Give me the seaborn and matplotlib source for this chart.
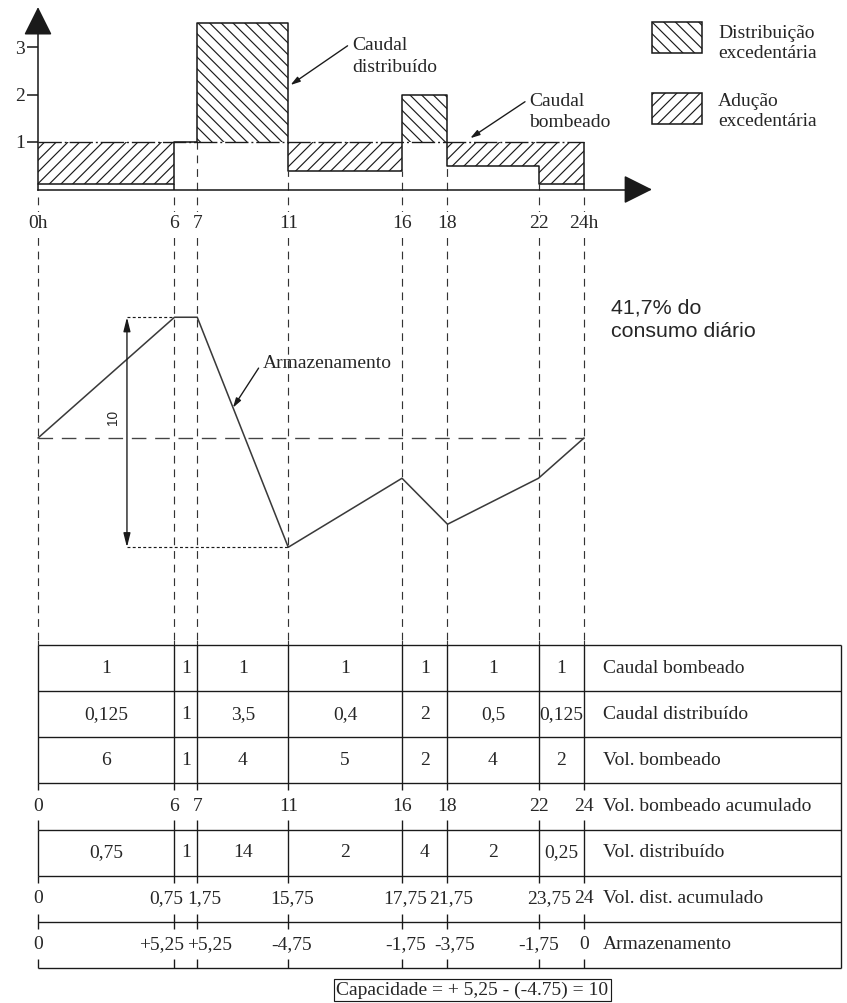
import numpy as np
import pandas as pd
import matplotlib.pyplot as plt
import seaborn as sns
from matplotlib.patches import Rectangle

# ============================================================
# Reservoir sizing diagram: pumped vs distributed flow over the
# day, resulting storage curve and the calculation table.
# ============================================================

# -----------------------------
# Data
# -----------------------------
hours = [0, 6, 7, 11, 16, 18, 22, 24]
hour_labels = ["0h", "6", "7", "11", "16", "18", "22", "24h"]

caudal_bombeado = [1, 1, 1, 1, 1, 1, 1]
caudal_distribuido = [0.125, 1, 3.5, 0.4, 2, 0.5, 0.125]
vol_bombeado = [6, 1, 4, 5, 2, 4, 2]
vol_bombeado_acum = [0, 6, 7, 11, 16, 18, 22, 24]
vol_distribuido = [0.75, 1, 14, 2, 4, 2, 0.25]
vol_dist_acum = [0, 0.75, 1.75, 15.75, 17.75, 21.75, 23.75, 24]
armazenamento = [0, 5.25, 5.25, -4.75, -1.75, -3.75, -1.75, 0]

row_names = ["Caudal bombeado", "Caudal distribuído", "Vol. bombeado",
             "Vol. bombeado acumulado", "Vol. distribuído",
             "Vol. dist. acumulado", "Armazenamento"]


def fmt(v):
    return f"{v:g}".replace(".", ",")


def fmt_signed(v):
    return ("+" if v > 0 else "") + fmt(v)


# -----------------------------
# Figure / layout (pixel based)
# -----------------------------
sns.set_theme(style="white")
plt.rcParams["font.family"] = ["Liberation Serif", "DejaVu Serif"]
plt.rcParams["lines.scale_dashes"] = False
plt.rcParams["hatch.linewidth"] = 0.6

PX_W, PX_H, DPI = 847, 1003, 140
X0, SX = 38, 22.75                       # px of hour 0, px per hour
XLIM = (-X0 / SX, (PX_W - X0) / SX)
FS = 10
INK = "#1a1a1a"
HATCH_DIST = "\\\\\\\\"                  # distribuição excedentária
HATCH_ADUC = "////"                      # adução excedentária
GUIDE = dict(color="#333333", lw=0.6, linestyles=(0, (4, 3)), zorder=0.2)

fig = plt.figure(figsize=(PX_W / DPI, PX_H / DPI), dpi=DPI)


def add_axes(top_px, bottom_px):
    ax = fig.add_axes([0, 1 - bottom_px / PX_H, 1, (bottom_px - top_px) / PX_H])
    ax.set_xlim(XLIM)
    ax.patch.set_alpha(0)
    return ax


# -----------------------------
# 1. Flow chart (top)
# -----------------------------
ax_top = add_axes(0, 232)
ax_top.set_ylim(-(232 - 189.5) / 47.5, 189.5 / 47.5)

# hatched surplus areas
for x0, x1, q, d in zip(hours[:-1], hours[1:], caudal_bombeado, caudal_distribuido):
    if d > q:
        ax_top.fill_between([x0, x1], q, d, facecolor="none", edgecolor=INK,
                            hatch=HATCH_DIST, linewidth=0)
    elif d < q:
        ax_top.fill_between([x0, x1], d, q, facecolor="none", edgecolor=INK,
                            hatch=HATCH_ADUC, linewidth=0)

# distributed flow (solid step) and pumped flow (dash-dot)
sns.lineplot(x=hours, y=caudal_distribuido + caudal_distribuido[-1:], ax=ax_top,
             drawstyle="steps-post", color=INK, linewidth=0.8, estimator=None)
ax_top.hlines(caudal_bombeado[0], hours[0], hours[-1], color=INK, lw=0.7,
              linestyles=(0, (12, 1.5, 1, 1.5)))

# drops from the flow levels to the time axis
levels = caudal_distribuido
for i, h in enumerate(hours[1:], start=1):
    low = min(levels[i - 1], levels[i] if i < len(levels) else levels[i - 1])
    if h in (6, 24):
        ax_top.vlines(h, 0, max(low, 1 if h == 24 else low), color=INK, lw=0.8)
    else:
        ax_top.vlines(h, 0, low, **GUIDE)
ax_top.vlines(hours, ax_top.get_ylim()[0], -0.15, **GUIDE)

# axes with arrows
for side in ["top", "right"]:
    ax_top.spines[side].set_visible(False)
ax_top.spines["left"].set_position(("data", 0))
ax_top.spines["bottom"].set_position(("data", 0))
ax_top.spines["left"].set_bounds(0, 3.5)
ax_top.spines["bottom"].set_bounds(0, 26.2)
for side in ["left", "bottom"]:
    ax_top.spines[side].set_color(INK)
    ax_top.spines[side].set_linewidth(0.8)
head = dict(arrowstyle="-|>,head_length=0.4,head_width=0.2", mutation_scale=32,
            color=INK, lw=0.8, shrinkA=0, shrinkB=0)
ax_top.annotate("", xy=(0, 3.84), xytext=(0, 3.3), arrowprops=head)
ax_top.annotate("", xy=(26.99, 0), xytext=(25.9, 0), arrowprops=head)

ax_top.set_yticks([1, 2, 3])
ax_top.set_yticklabels(["1", "2", "3"])
ax_top.tick_params(axis="y", direction="out", length=5.7, width=0.8, pad=1,
                   labelsize=FS, left=True, color=INK)
ax_top.set_xticks(hours)
ax_top.set_xticklabels(hour_labels)
ax_top.tick_params(axis="x", length=0, pad=13, labelsize=FS)
for lab in ax_top.get_xticklabels():
    lab.set_bbox(dict(facecolor="white", edgecolor="none", pad=1.5))
ax_top.grid(False)

# labels with leader arrows
leader = dict(arrowstyle="-|>,head_length=0.5,head_width=0.15", mutation_scale=8,
              color=INK, lw=0.7, shrinkA=0, shrinkB=0)
ax_top.annotate("Caudal\ndistribuído", xy=(11.1, 2.2), xytext=(13.8, 2.8),
                ha="left", va="center", fontsize=FS, linespacing=1.4,
                arrowprops=dict(leader, relpos=(0, 0.85)))
ax_top.annotate("Caudal\nbombeado", xy=(19.0, 1.08), xytext=(21.6, 1.63),
                ha="left", va="center", fontsize=FS, linespacing=1.3,
                arrowprops=dict(leader, relpos=(0, 0.85)))

# legend
ax_top.add_patch(Rectangle((27.0, 2.87), 2.19, 0.66, fill=False, hatch=HATCH_DIST,
                           edgecolor=INK, lw=0.8))
ax_top.add_patch(Rectangle((27.0, 1.38), 2.19, 0.66, fill=False, hatch=HATCH_ADUC,
                           edgecolor=INK, lw=0.8))
ax_top.text(29.9, 3.08, "Distribuição\nexcedentária", ha="left", va="center",
            fontsize=FS, linespacing=1.2)
ax_top.text(29.9, 1.64, "Adução\nexcedentária", ha="left", va="center",
            fontsize=FS, linespacing=1.2)

# -----------------------------
# 2. Storage curve (middle)
# -----------------------------
ax_mid = add_axes(232, 640)
ax_mid.set_ylim(-(640 - 438) / 23, (438 - 232) / 23)
ax_mid.axis("off")

ax_mid.vlines(hours, *ax_mid.get_ylim(), **GUIDE)
ax_mid.hlines(0, hours[0], hours[-1], color="#444444", lw=0.7,
              linestyles=(0, (7.5, 4.5)))
sns.lineplot(x=hours, y=armazenamento, ax=ax_mid, color="#3a3a3a",
             linewidth=0.8, estimator=None)

s_max, s_min = max(armazenamento), min(armazenamento)
capacidade = s_max - s_min
dim_x = 3.91
dots = (0, (1.5, 1.2))
ax_mid.hlines(s_max, dim_x, hours[armazenamento.index(s_max)], color=INK,
              lw=0.6, linestyles=dots)
ax_mid.hlines(s_min, dim_x, hours[armazenamento.index(s_min)], color=INK,
              lw=0.6, linestyles=dots)
ax_mid.annotate("", xy=(dim_x, s_min), xytext=(dim_x, s_max),
                arrowprops=dict(arrowstyle="<|-|>,head_length=0.6,head_width=0.15",
                                mutation_scale=10, color=INK, lw=0.7,
                                shrinkA=0, shrinkB=0))
ax_mid.text(3.3, 0.9, fmt(capacidade), rotation=90, ha="center", va="center",
            fontsize=7, family=["Liberation Sans", "DejaVu Sans"])

ax_mid.annotate("Armazenamento", xy=(8.57, 1.32), xytext=(9.89, 3.26),
                ha="left", va="center", fontsize=FS,
                arrowprops=dict(leader, relpos=(0, 0.6)))

pct = fmt(round(100 * capacidade / hours[-1], 1))
ax_mid.text(25.2, 5.15, f"{pct}% do\nconsumo diário", ha="left", va="center",
            fontsize=11, family=["Liberation Sans", "DejaVu Sans"],
            linespacing=1.3)

# -----------------------------
# 3. Calculation table (bottom)
# -----------------------------
ax_tab = add_axes(640, PX_H)
ax_tab.set_ylim((PX_H - 645) / 46.14, (640 - 645) / 46.14)
ax_tab.axis("off")
x_right = (841 - X0) / SX
TAB = dict(color=INK, lw=0.7)

ax_tab.vlines(hours, ax_tab.get_ylim()[1], 0, **GUIDE)
ax_tab.hlines(range(8), 0, x_right, **TAB)
ax_tab.vlines(x_right, 0, 7, **TAB)
ax_tab.vlines(hours, 0, 3, **TAB)
ax_tab.vlines(hours, 4, 5, **TAB)
for y0, y1 in [(3, 3.15), (3.8, 4), (5, 5.15), (5.82, 6.16), (6.8, 7)]:
    ax_tab.vlines(hours, y0, y1, **TAB)

mids = [(a + b) / 2 for a, b in zip(hours[:-1], hours[1:])]
segment_rows = {0: caudal_bombeado, 1: caudal_distribuido, 2: vol_bombeado,
                4: vol_distribuido}
for r, vals in segment_rows.items():
    for x, v in zip(mids, vals):
        ax_tab.text(x, r + 0.5, fmt(v), ha="center", va="center", fontsize=FS)

# boundary rows; crowded labels around 6h/7h are pushed apart
crowded = {6: ("right", 0.4), 7: ("left", -0.45), 22: ("center", 0.45)}
for x, v in zip(hours, vol_bombeado_acum):
    ax_tab.text(x, 3.5, fmt(v), ha="center", va="center", fontsize=FS)
for r, vals, f in [(5, vol_dist_acum, fmt), (6, armazenamento, fmt_signed)]:
    for x, v in zip(hours, vals):
        ha, dx = crowded.get(x, ("center", 0.15 if 0 < x < 24 else 0))
        if r == 6 and x == 22:
            ha, dx = "center", 0
        if r == 6 and x == 18:
            dx = 0.3
        ax_tab.text(x + dx, r + 0.5, f(v), ha=ha, va="center", fontsize=FS)

for r, name in enumerate(row_names):
    ax_tab.text(24.84, r + 0.5, name, ha="left", va="center", fontsize=FS)

ax_tab.text(19.1, 7.48,
            f"Capacidade = + {fmt(s_max)} - ({s_min:.2f}) = {fmt(capacidade)}",
            ha="center", va="center", fontsize=FS,
            bbox=dict(boxstyle="square,pad=0.12", facecolor="white",
                      edgecolor=INK, lw=0.6))

fig.savefig("out.png", dpi=DPI)
